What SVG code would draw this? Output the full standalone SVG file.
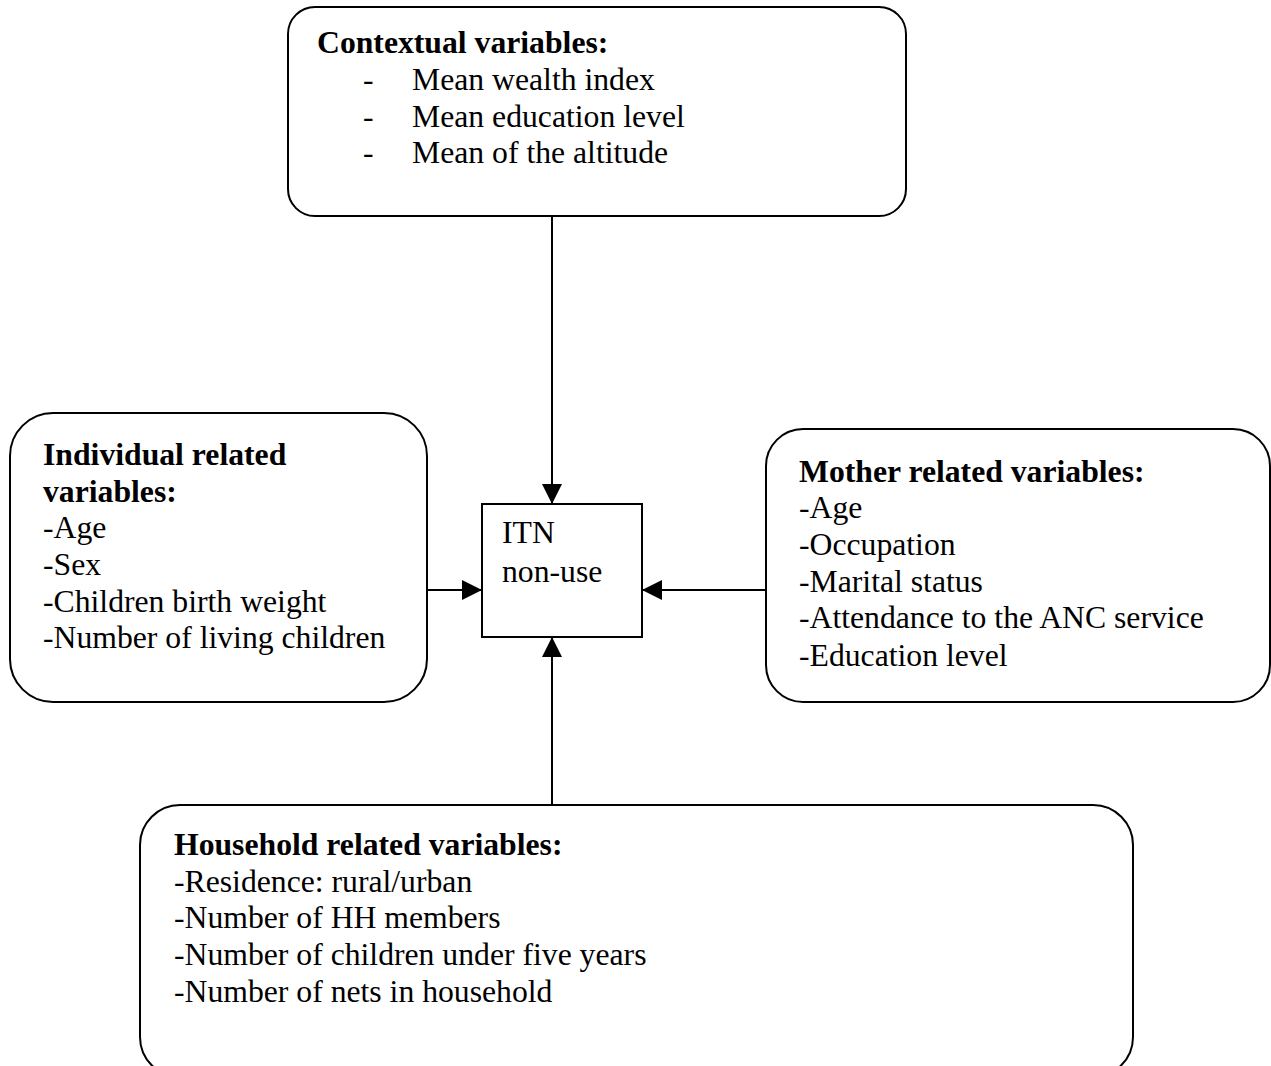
<svg xmlns="http://www.w3.org/2000/svg" width="1271" height="1066" viewBox="0 0 1271 1066">
<style>
.box{fill:#fff;stroke:#000;stroke-width:2}
text{font-family:"Liberation Serif","Times New Roman",serif;font-size:31.7px;fill:#000}
.b{font-weight:bold}
.conn line{stroke:#000;stroke-width:2}
</style>
<defs>
<marker id="arr" markerWidth="20" markerHeight="20" refX="19" refY="10" orient="auto" markerUnits="userSpaceOnUse">
<path d="M0,0 L20,10 L0,20 Z" fill="#000"/>
</marker>
</defs>
<rect width="1271" height="1066" fill="#fff"/>
<g id="connectors" class="conn">
<line x1="552" y1="216" x2="552" y2="503" marker-end="url(#arr)"/>
<line x1="427" y1="590" x2="481" y2="590" marker-end="url(#arr)"/>
<line x1="766" y1="590" x2="643" y2="590" marker-end="url(#arr)"/>
<line x1="552" y1="805" x2="552" y2="638" marker-end="url(#arr)"/>
</g>
<g id="contextual">
<rect class="box" x="288" y="7" width="618" height="209" rx="27"/>
<text class="b" x="317" y="53">Contextual variables:</text>
<text x="363" y="90">-</text><text x="412" y="90">Mean wealth index</text>
<text x="363" y="127">-</text><text x="412" y="127">Mean education level</text>
<text x="363" y="163">-</text><text x="412" y="163">Mean of the altitude</text>
</g>
<g id="itn">
<rect class="box" x="482" y="504" width="160" height="133"/>
<text x="502" y="543">ITN</text>
<text x="502" y="582">non-use</text>
</g>
<g id="individual">
<rect class="box" x="10" y="413" width="417" height="289" rx="43"/>
<text class="b" x="43" y="465">Individual related</text>
<text class="b" x="43" y="502">variables:</text>
<text x="43" y="538">-Age</text>
<text x="43" y="575">-Sex</text>
<text x="43" y="612">-Children birth weight</text>
<text x="43" y="648">-Number of living children</text>
</g>
<g id="mother">
<rect class="box" x="766" y="429" width="504" height="273" rx="37"/>
<text class="b" x="799" y="482">Mother related variables:</text>
<text x="799" y="518">-Age</text>
<text x="799" y="555">-Occupation</text>
<text x="799" y="592">-Marital status</text>
<text x="799" y="628">-Attendance to the ANC service</text>
<text x="799" y="666">-Education level</text>
</g>
<g id="household">
<rect class="box" x="140" y="805" width="993" height="272" rx="40"/>
<text class="b" x="174" y="855">Household related variables:</text>
<text x="174" y="892">-Residence: rural/urban</text>
<text x="174" y="928">-Number of HH members</text>
<text x="174" y="965">-Number of children under five years</text>
<text x="174" y="1002">-Number of nets in household</text>
</g>
</svg>
